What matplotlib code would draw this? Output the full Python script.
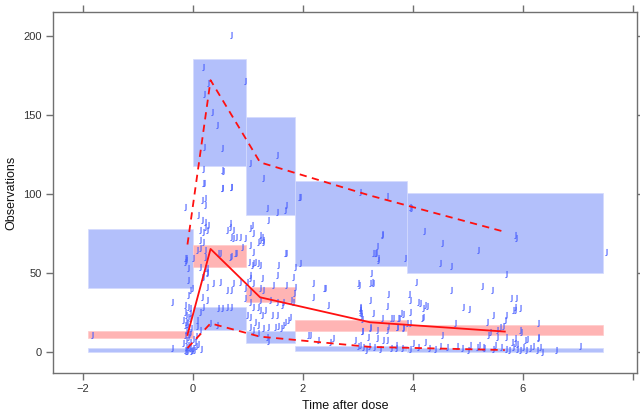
import matplotlib
matplotlib.use("Agg")
import matplotlib.pyplot as plt
from matplotlib.patches import Rectangle

# ---- data ----
bin_edges = [-1.9, 0.0, 0.97, 1.85, 3.9, 7.45]
pi_upper_lo = [40.5, 117.7, 86.5, 54.5, 50.2]
pi_upper_hi = [77.8, 185.4, 148.7, 108.2, 100.6]
pi_med_lo = [8.7, 53.8, 31.4, 13.3, 10.5]
pi_med_hi = [13.5, 67.7, 41.3, 20.3, 16.9]
pi_low_lo = [-0.2, 13.7, 5.9, 0.8, 0.2]
pi_low_hi = [2.3, 28.3, 13.5, 3.8, 2.5]

line_time = [-0.1, 0.32, 1.22, 3.22, 5.67]
obs_median = [10.8, 65.2, 34.6, 18.8, 12.9]
obs_upper = [68.0, 172.0, 120.0, 99.0, 76.0]
obs_lower = [2.5, 18.1, 9.7, 3.2, 1.2]

obs_points = [
    (-1.84, 10.8), (-0.39, 31.8), (-0.39, 2.3), (0.0, 2.3),
    # predose column
    (-0.15, 59.3), (-0.12, 58.2), (-0.09, 53.0), (-0.09, 45.6), (-0.05, 39.2), (-0.09, 36.0),
    (-0.15, 92.0), (-0.15, 57.2), (-0.02, 40.3),
    (-0.15, 29.7), (-0.09, 28.7), (-0.05, 27.6), (-0.15, 25.5), (-0.12, 23.4), (-0.09, 22.4),
    (-0.05, 21.3), (-0.18, 20.3), (-0.12, 19.2), (-0.15, 17.1), (-0.09, 16.0), (-0.12, 13.9),
    (-0.05, 12.9), (-0.15, 10.8), (-0.09, 9.7), (-0.12, 7.6), (-0.05, 6.5), (-0.18, 5.5),
    (-0.09, 4.4), (-0.12, 3.4), (-0.05, 2.3), (-0.15, 1.5), (-0.1, 0.8), (-0.02, 1.2),
    (-0.07, 3.0), (-0.13, 0.3), (-0.04, 0.5), (0.02, 1.0), (0.05, 3.5), (0.03, 6.0),
    (-0.08, 11.5), (-0.03, 15.0), (-0.11, 18.0), (-0.06, 24.5), (0.0, 8.0),
    # bin 2 (0 - 0.97)
    (0.7, 200.6), (0.19, 180.6), (0.95, 171.5), (0.28, 170.0), (0.2, 163.3), (0.35, 152.0),
    (0.44, 143.7), (0.2, 130.0), (0.52, 128.9), (0.54, 114.8), (0.19, 116.0), (0.2, 106.7),
    (0.52, 103.5), (0.7, 104.1), (0.19, 106.8), (0.16, 96.0), (0.22, 97.5), (0.21, 93.0),
    (0.1, 86.7), (0.22, 82.5), (0.22, 79.3), (0.25, 77.0), (0.19, 76.0), (0.19, 69.8),
    (0.13, 65.6), (0.07, 64.6), (0.22, 64.6), (-0.12, 59.3), (0.0, 59.3), (0.13, 54.0),
    (0.25, 53.0), (0.25, 49.8), (0.16, 47.7), (0.52, 115.0), (0.52, 103.6), (0.7, 104.6),
    (0.67, 81.4), (0.61, 77.2), (0.7, 73.0), (0.73, 72.0), (0.85, 73.0), (0.95, 72.0),
    (0.7, 60.6), (0.76, 62.4), (0.46, 62.4), (0.13, 77.2), (0.16, 83.5), (0.28, 80.4),
    (0.67, 79.3), (0.73, 77.2), (0.79, 73.0), (0.13, 70.9), (0.22, 60.3), (0.49, 62.4),
    (0.67, 60.3), (0.79, 62.4), (0.89, 66.6), (0.22, 53.0), (0.25, 50.8), (0.19, 47.7),
    (0.25, 41.4), (0.37, 43.5), (0.49, 44.5), (0.61, 39.2), (0.73, 43.5), (0.85, 44.5),
    (0.7, 39.2), (0.46, 27.6), (0.52, 27.6), (0.61, 28.7), (0.7, 28.7), (0.16, 35.0),
    (0.25, 32.9), (0.19, 28.7), (0.13, 25.5), (0.31, 18.1), (0.43, 17.1), (0.08, 20.0),
    (0.12, 14.0), (0.05, 10.0), (0.1, 5.0), (0.15, 2.0), (0.07, 16.5),
    # bin 3 (0.97 - 1.85)
    (1.04, 119.4), (1.52, 124.7), (1.28, 109.9), (1.69, 93.0), (1.34, 91.0), (1.52, 88.8),
    (1.37, 83.5), (1.04, 78.3), (1.07, 80.4), (1.22, 74.0), (1.22, 71.0), (1.28, 71.0),
    (1.1, 63.5), (1.13, 57.2), (1.22, 55.0), (1.07, 55.0), (1.67, 62.4), (1.55, 55.0),
    (1.85, 54.0), (1.1, 75.1), (1.25, 73.0), (1.28, 69.8), (1.19, 69.8), (1.04, 67.7),
    (1.7, 62.4), (1.01, 57.2), (1.1, 56.0), (1.19, 56.0), (1.04, 48.7), (1.04, 46.5),
    (1.25, 46.5), (1.52, 48.7), (1.82, 47.7), (0.98, 44.5), (1.1, 43.5), (0.95, 40.3),
    (1.22, 40.3), (1.28, 39.2), (1.46, 42.4), (1.7, 42.4), (1.85, 41.4), (1.84, 37.1),
    (1.79, 32.9), (1.81, 31.5), (1.04, 38.2), (1.22, 32.9), (1.4, 32.9), (1.52, 31.9),
    (1.64, 31.9), (1.04, 31.9), (0.95, 34.0), (1.19, 28.7), (1.22, 26.6), (1.1, 28.7),
    (1.31, 26.6), (1.61, 29.7), (1.04, 21.9), (1.25, 23.4), (1.43, 23.4), (1.52, 23.4),
    (0.98, 23.4), (1.13, 19.2), (1.19, 17.1), (1.37, 16.0), (1.49, 16.0), (1.64, 17.0),
    (1.67, 19.2), (1.28, 14.9), (1.19, 11.8), (1.34, 9.7), (1.36, 7.2), (1.04, 16.0),
    (1.1, 14.0), (1.55, 16.5), (1.6, 15.0), (1.72, 20.0), (1.76, 22.0),
    # bin 4 (1.85 - 3.9)
    (1.92, 98.3), (1.95, 97.9), (1.67, 90.0), (1.95, 56.0), (2.19, 43.5), (2.4, 40.3),
    (2.19, 35.0), (2.13, 10.8), (2.1, 10.8), (2.28, 7.6), (2.49, 6.5), (2.95, 7.6),
    (2.39, 40.3), (2.45, 29.7), (2.54, 8.6), (3.04, 101.5), (3.52, 99.0), (3.96, 91.0),
    (3.44, 74.5), (3.34, 67.0), (3.28, 62.4), (3.32, 62.4), (3.36, 58.2), (3.85, 59.3),
    (3.23, 50.2), (3.25, 44.5), (3.21, 43.5), (3.0, 43.5), (3.28, 43.5), (3.02, 42.4),
    (3.55, 36.7), (3.22, 32.9), (3.52, 29.1), (3.04, 27.6), (3.28, 24.9), (3.79, 24.6),
    (3.04, 25.5), (3.05, 22.7), (3.07, 20.6), (3.43, 21.3), (3.63, 21.3), (3.73, 21.3),
    (3.81, 24.0), (3.71, 16.0), (3.81, 16.0), (3.55, 16.5), (3.07, 13.3), (3.21, 16.0),
    (3.22, 15.0), (3.07, 13.0), (3.34, 13.9), (3.52, 13.9), (3.46, 7.6), (3.34, 8.6),
    (3.52, 7.6), (3.19, 9.7), (3.04, 28.7), (3.04, 26.6), (3.06, 24.6), (3.43, 74.0),
    (3.37, 59.3), (3.31, 62.4), (3.04, 4.5), (3.1, 3.0), (3.2, 4.0), (3.3, 3.2),
    (3.6, 2.5), (3.7, 2.5), (3.8, 2.5), (3.7, 4.4), (3.0, 3.5), (3.15, 1.5), (3.4, 2.0),
    (3.9, 18.6), (3.6, 21.3), (3.74, 21.3), (3.71, 16.0), (3.82, 15.0),
    # bin 5 (3.9 - 7.45)
    (3.95, 92.0), (4.2, 76.6), (4.52, 68.8), (5.19, 64.6), (4.5, 56.0), (4.69, 54.6),
    (5.85, 74.0), (5.87, 72.4), (7.51, 63.5), (5.69, 49.4), (4.05, 44.5), (4.69, 39.2),
    (5.26, 41.8), (5.44, 39.2), (3.93, 36.7), (3.95, 32.9), (4.13, 30.8), (4.25, 29.1),
    (4.1, 31.9), (4.22, 29.7), (4.19, 27.6), (4.91, 28.7), (5.02, 27.0), (5.79, 34.0),
    (5.88, 34.0), (5.85, 28.7), (5.95, 27.6), (5.82, 26.6), (5.86, 26.6), (5.45, 23.4),
    (5.7, 23.4), (4.19, 22.4), (3.95, 25.5), (4.16, 21.3), (3.95, 18.1), (4.76, 18.6),
    (5.34, 19.2), (5.67, 20.3), (5.63, 16.5), (5.52, 13.9), (5.4, 12.9), (5.58, 16.0),
    (5.95, 13.9), (5.97, 12.5), (6.28, 18.1), (6.28, 9.7), (6.07, 8.0), (5.7, 9.7),
    (5.85, 8.6), (5.8, 6.5), (5.85, 5.5), (5.9, 5.0), (5.37, 10.8), (5.52, 9.7),
    (4.52, 10.8), (4.22, 6.5), (6.04, 7.6), (6.28, 8.6), (5.04, 4.4), (5.16, 3.4),
    (4.61, 3.4), (5.28, 3.4), (5.45, 2.0), (5.6, 3.4), (5.95, 1.3), (6.0, 3.0),
    (6.19, 4.0), (6.34, 0.2), (6.31, 3.4), (6.6, 1.3), (7.04, 3.8), (4.0, 5.5),
    (4.1, 3.0), (3.95, 2.0), (4.3, 2.3), (4.5, 3.8), (4.9, 2.3), (5.0, 1.3), (5.2, 4.4),
    (5.3, 2.3), (5.5, 4.4), (5.7, 2.0), (5.75, 1.0), (5.82, 3.3), (5.9, 2.0), (6.05, 1.0),
    (6.12, 2.3), (6.25, 1.5), (4.4, 2.0), (4.8, 4.0),
]

# ---- figure ----
fig = plt.figure(figsize=(6.4, 4.11), dpi=100)
ax = fig.add_axes([0.0828, 0.0925, 0.9122, 0.8785])

blue_box = "#b3c0fb"
red_box = "#ffb4b4"
for i in range(len(bin_edges) - 1):
    x0, x1 = bin_edges[i], bin_edges[i + 1]
    for lo, hi, col in ((pi_upper_lo, pi_upper_hi, blue_box),
                        (pi_low_lo, pi_low_hi, blue_box),
                        (pi_med_lo, pi_med_hi, red_box)):
        ax.add_patch(Rectangle((x0, lo[i]), x1 - x0, hi[i] - lo[i],
                               facecolor=col, edgecolor="#d4dafe" if col == blue_box else "#ffcaca",
                               linewidth=0.5, zorder=1))

px = [p[0] for p in obs_points]
py = [p[1] for p in obs_points]
ax.scatter(px, py, marker=r"$\mathsf{J}$", s=24, color="#4a60ff", edgecolors="#4a60ff",
           linewidths=0.2, zorder=3)

ax.plot(line_time, obs_median, color="#ff1010", lw=1.3, zorder=4)
ax.plot(line_time, obs_upper, color="#ff1010", lw=1.3, ls=(0, (4, 3)), zorder=4)
ax.plot(line_time, obs_lower, color="#ff1010", lw=1.3, ls=(0, (4, 3)), zorder=4)

ax.set_xlim(-2.545, 8.07)
ax.set_ylim(-13.3, 215.2)
ax.set_xticks([-2, 0, 2, 4, 6, 8])
ax.set_xticklabels(["\u22122", "0", "2", "4", "6", ""])
ax.set_yticks([0, 50, 100, 150, 200])

for s in ax.spines.values():
    s.set_color("#707070")
    s.set_linewidth(1.0)
ax.tick_params(axis="both", direction="out", length=5, width=1.0, color="#707070",
               labelsize=8, labelcolor="#333333", top=True, right=True, pad=3)
for lab in ax.get_xticklabels() + ax.get_yticklabels():
    lab.set_family("Liberation Sans")

ax.set_xlabel("Time after dose", fontsize=9, family="Liberation Sans", color="#111111", labelpad=4)
ax.set_ylabel("Observations", fontsize=9, family="Liberation Sans", color="#111111", labelpad=4)

fig.savefig("out.png", dpi=100)
